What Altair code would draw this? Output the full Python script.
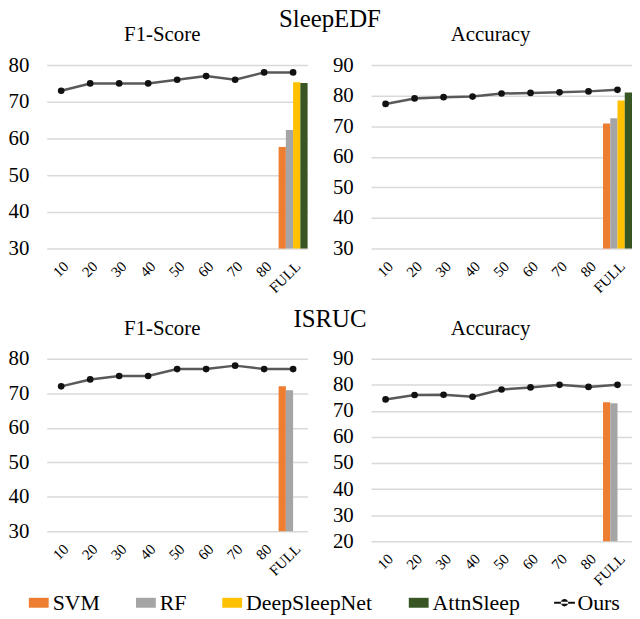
import altair as alt
import pandas as pd

categories = ["10", "20", "30", "40", "50", "60", "70", "80", "FULL"]
models = ["SVM", "RF", "DeepSleepNet", "AttnSleep"]
model_colors = ["#ED7D31", "#A5A5A5", "#FFC000", "#375623"]

edf_f1_ours = [73, 75, 75, 75, 76, 77, 76, 78, 78]
edf_f1_base = [57.7, 62.3, 75.3, 75.1]
edf_acc_ours = [77.3, 79.1, 79.5, 79.7, 80.7, 80.9, 81.1, 81.4, 81.9]
edf_acc_base = [70.9, 72.6, 78.4, 81.0]
isruc_f1_ours = [72, 74, 75, 75, 77, 77, 78, 77, 77]
isruc_f1_base = [72.0, 70.9]
isruc_acc_ours = [74.4, 76.1, 76.2, 75.4, 78.2, 79.0, 80.0, 79.2, 80.0]
isruc_acc_base = [73.3, 72.9]

FONT = "Liberation Serif"

fill_legend = alt.Legend(
    title=None, orient="none", legendX=-19, legendY=531, direction="horizontal",
    symbolType="M-1,-0.5L1,-0.5L1,0.5L-1,0.5Z", symbolSize=400, symbolStrokeWidth=0,
    labelFont=FONT, labelFontSize=22, labelColor="black", labelOffset=3,
    columnPadding=35, padding=0, columns=4,
)
ours_legend = alt.Legend(
    title=None, orient="none", legendX=511, legendY=531, direction="horizontal",
    symbolType="M-1,-0.1L1,-0.1L1,0.1L-1,0.1Z M-0.35,0A0.35,0.35 0 1,0 0.35,0A0.35,0.35 0 1,0 -0.35,0Z",
    symbolSize=441, symbolStrokeWidth=0,
    labelFont=FONT, labelFontSize=22, labelColor="black", labelOffset=2, padding=0,
)


def panel(title, ours, base, ymin, ymax, width, height, tdx):
    used = models[: len(base)]
    line_df = pd.DataFrame({"cat": categories, "value": ours, "series": ["Ours"] * len(categories)})
    bar_df = pd.DataFrame({"cat": ["FULL"] * len(used), "model": used, "value": base})
    x = alt.X(
        "cat:N", sort=categories,
        scale=alt.Scale(domain=categories, paddingInner=0, paddingOuter=0),
        axis=alt.Axis(title=None, labelAngle=-45, labelFontSize=15, labelPadding=10,
                      domain=False, ticks=False, grid=False, labelColor="black", labelFont=FONT),
    )
    y = alt.Y(
        "value:Q",
        scale=alt.Scale(domain=[ymin, ymax], nice=False, zero=False),
        axis=alt.Axis(title=None, values=list(range(ymin, ymax + 1, 10)), domain=False, ticks=False,
                      labelFontSize=21, labelPadding=18, labelColor="black", labelFont=FONT,
                      gridColor="#d9d9d9", gridWidth=1.5),
    )
    bars = alt.Chart(bar_df).mark_bar().encode(
        x=x,
        xOffset=alt.XOffset("model:N", sort=used,
                            scale=alt.Scale(domain=used, paddingInner=0,
                                            paddingOuter=0 if len(used) == 4 else 1)),
        y=y,
        y2=alt.datum(ymin),
        fill=alt.Fill("model:N", scale=alt.Scale(domain=models, range=model_colors), legend=fill_legend),
    )
    line = alt.Chart(line_df).mark_line(color="#595959", strokeWidth=2.5).encode(x=x, y=y)
    pts = alt.Chart(line_df).mark_point(filled=True, size=45, opacity=1).encode(
        x=x, y=y,
        color=alt.Color("series:N", scale=alt.Scale(domain=["Ours"], range=["#111111"]), legend=ours_legend),
    )
    return alt.layer(bars, line, pts).properties(
        width=width, height=height,
        title=alt.TitleParams(title, fontSize=21, font=FONT, fontWeight="normal", color="black",
                              offset=9, dx=tdx),
    )


p1 = panel("F1-Score", edf_f1_ours, edf_f1_base, 30, 80, 263, 185, -15)
p2 = panel("Accuracy", edf_acc_ours, edf_acc_base, 30, 90, 263, 185, -11)
p3 = panel("F1-Score", isruc_f1_ours, isruc_f1_base, 30, 80, 263, 174, -15)
p4 = panel("Accuracy", isruc_acc_ours, isruc_acc_base, 20, 90, 263, 184, -11)

row1 = alt.hconcat(p1, p2, spacing=25).properties(
    title=alt.TitleParams("SleepEDF", fontSize=25, font=FONT, fontWeight="normal", color="black",
                          anchor="middle", offset=-7.5, dx=10)
)
row2 = alt.hconcat(p3, p4, spacing=25).properties(
    title=alt.TitleParams("ISRUC", fontSize=25, font=FONT, fontWeight="normal", color="black",
                          anchor="middle", offset=-14, dx=10)
)

chart = alt.vconcat(row1, row2, spacing=11).properties(
    padding={"left": 0, "top": -4, "right": 0, "bottom": 24}
).configure(font=FONT).configure_view(stroke=None).configure_legend(labelFont=FONT)

chart.save("out.html", embed_options={"renderer": "svg", "actions": False})
